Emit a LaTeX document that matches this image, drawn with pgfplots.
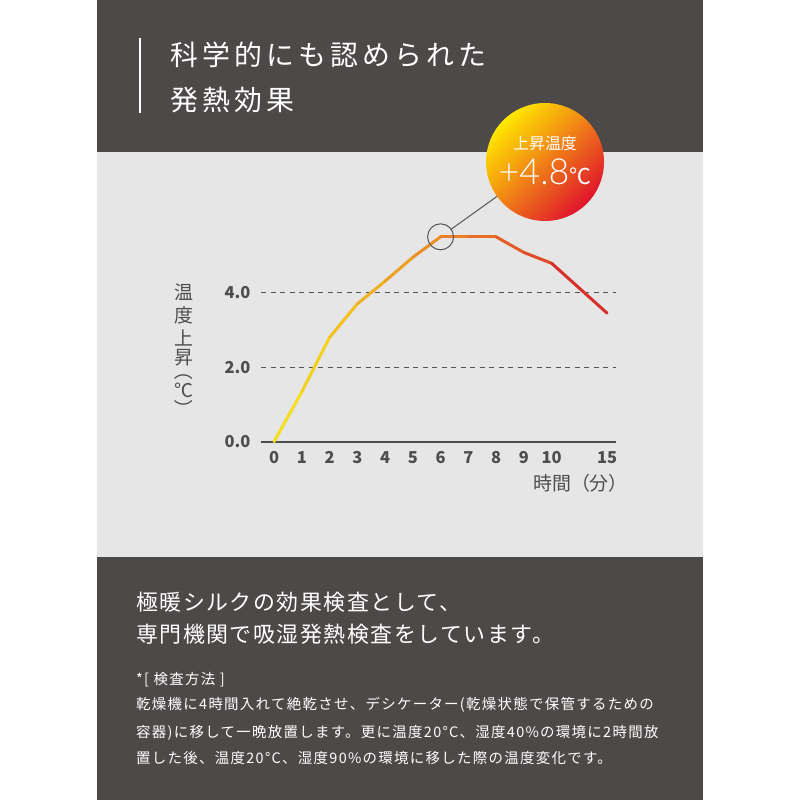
\documentclass[border=0pt]{standalone}
\usepackage{fontspec}
\setmainfont{Noto Sans CJK JP}
\newfontfamily\jp{Noto Sans CJK JP}
\newfontfamily\jpsp[LetterSpace=15]{Noto Sans CJK JP}
\newfontfamily\jpbig[LetterSpace=7]{Noto Sans CJK JP}
\newfontfamily\jpsm[LetterSpace=9]{Noto Sans CJK JP}
\newfontfamily\lightfont{Lato Light}
\usepackage{pgfplots}
\pgfplotsset{compat=1.18}
\usetikzlibrary{calc}
\definecolor{dark}{RGB}{77,73,72}
\definecolor{light}{RGB}{230,230,230}
\definecolor{txt}{RGB}{77,77,77}
\definecolor{gridgray}{RGB}{85,85,85}
\definecolor{byel}{RGB}{255,232,0}
\definecolor{bora}{RGB}{242,125,30}
\definecolor{bred}{RGB}{224,20,45}
\begin{document}
\begin{tikzpicture}
\begin{scope}[x=1bp,y=1bp]
\fill[white] (0,0) rectangle (800,800);
\fill[dark] (97,0) rectangle (703,243);
\fill[light] (97,243) rectangle (703,648);
\fill[dark] (97,648) rectangle (703,800);
% title
\draw[white, line width=2bp] (140,762) -- (140,687);
\node[anchor=west, white, inner sep=0pt, font=\jpsp\fontsize{28}{28}\selectfont] at (170,745) {科学的にも認められた};
\node[anchor=west, white, inner sep=0pt, font=\jpsp\fontsize{28}{28}\selectfont] at (170,700) {発熱効果};
\end{scope}
% chart
\begin{axis}[
 at={(261bp,358.3bp)}, anchor=south west, scale only axis,
 width=355bp, height=223.5bp,
 xmin=-0.47, xmax=12.32, ymin=0, ymax=6,
 axis lines=left,
 x axis line style={-, line width=2bp, draw=txt},
 y axis line style={draw=none},
 xtick={0,1,2,3,4,5,6,7,8,9,10,12},
 xticklabels={0,1,2,3,4,5,6,7,8,9,10,15},
 ytick={2,4}, yticklabels={2.0,4.0},
 extra y ticks={0}, extra y tick labels={0.0},
 extra y tick style={grid=none},
 major tick length=0pt,
 ymajorgrids,
 grid style={dash pattern=on 5bp off 4.5bp, line width=1.2bp, draw=gridgray},
 tick label style={font=\jp\bfseries\fontsize{16.5}{16.5}\selectfont, text=txt},
 yticklabel style={xshift=-7bp},
 xticklabel style={yshift=-6bp},
 /pgf/number format/assume math mode=true,
 clip=false,
 colormap={heat}{rgb255(0)=(246,230,25) rgb255(3)=(241,185,32) rgb255(6)=(235,135,38) rgb255(9)=(226,85,40) rgb255(12)=(212,28,45)},
]
\addplot[mesh, point meta=x, line width=3bp, line cap=round, line join=round]
 coordinates {(0,0) (1,1.34) (2,2.80) (3,3.70) (4,4.31) (5,4.95) (6,5.50) (7,5.50) (8,5.50) (9,5.08) (10,4.79) (12,3.45)};
\addplot[only marks, mark=o, mark size=13bp, mark options={line width=1bp, draw=gridgray}] coordinates {(6,5.50)};
\coordinate (pk) at (axis cs:6,5.50);
\end{axis}
\begin{scope}[x=1bp,y=1bp]
% badge
\coordinate (bd) at (545,638);
\draw[gridgray, line width=1bp] ($(pk)!13bp!(bd)$) -- ($(bd)!59bp!(pk)$);
\shade[shading=axis, top color=byel, middle color=bora, bottom color=bred, shading angle=45] (bd) circle (59);
\node[white, font=\jp\fontsize{16}{16}\selectfont] at (545,657) {上昇温度};
\node[white, font=\lightfont\fontsize{36}{36}\selectfont] at (545,628) {+4.8{\jp\fontsize{22}{22}\selectfont ℃}};
% axis titles
\node[txt, font=\jp\fontsize{19}{19}\selectfont, inner sep=0pt] at (184,508) {温};
\node[txt, font=\jp\fontsize{19}{19}\selectfont, inner sep=0pt] at (184,485) {度};
\node[txt, font=\jp\fontsize{19}{19}\selectfont, inner sep=0pt] at (184,462) {上};
\node[txt, font=\jp\fontsize{19}{19}\selectfont, inner sep=0pt] at (184,442) {昇};
\node[txt, font=\jp\fontsize{19}{19}\selectfont, inner sep=0pt, rotate=-90] at (184,429) {（};
\node[txt, font=\jp\fontsize{19}{19}\selectfont, inner sep=0pt] at (184,410) {℃};
\node[txt, font=\jp\fontsize{19}{19}\selectfont, inner sep=0pt, rotate=-90] at (184,391) {）};
\node[txt, anchor=east, font=\jp\fontsize{19}{19}\selectfont, inner sep=0pt] at (628,317) {時間（分）};
% bottom text
\node[anchor=west, white, inner sep=0pt, font=\jpbig\fontsize{22}{22}\selectfont] at (136,198) {極暖シルクの効果検査として、};
\node[anchor=west, white, inner sep=0pt, font=\jpbig\fontsize{22}{22}\selectfont] at (136,166) {専門機関で吸湿発熱検査をしています。};
\node[anchor=west, white, inner sep=0pt, font=\jpsm\fontsize{14.5}{14.5}\selectfont] at (136,120) {*[ 検査方法 ]};
\node[anchor=west, white, inner sep=0pt, font=\jpsm\fontsize{14.5}{14.5}\selectfont] at (136,95) {乾燥機に4時間入れて絶乾させ、デシケーター(乾燥状態で保管するための};
\node[anchor=west, white, inner sep=0pt, font=\jpsm\fontsize{14.5}{14.5}\selectfont] at (136,67) {容器)に移して一晩放置します。更に温度20°C、湿度40\%の環境に2時間放};
\node[anchor=west, white, inner sep=0pt, font=\jpsm\fontsize{14.5}{14.5}\selectfont] at (136,42) {置した後、温度20°C、湿度90\%の環境に移した際の温度変化です。};
\end{scope}
\end{tikzpicture}
\end{document}
